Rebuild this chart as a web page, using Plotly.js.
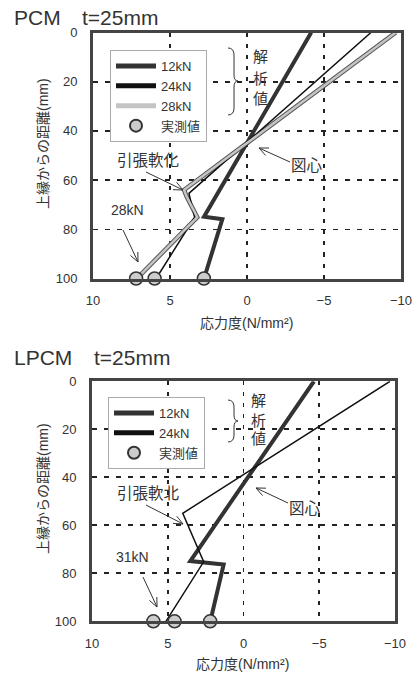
<!DOCTYPE html>
<html>
<head>
<meta charset="utf-8">
<script src="https://cdn.plot.ly/plotly-3.0.1.min.js"></script>
<style>html,body{margin:0;padding:0;background:#fff;}#chart{width:412px;height:674px;}</style>
</head>
<body>
<div id="chart"></div>
<script>
// ---- data (stress in N/mm^2, depth from top edge in mm) ----
const xTicks = [10, 5, 0, -5, -10];
const yTicks = [0, 20, 40, 60, 80, 100];

// PCM t=25mm
const pcm12Depth = [0, 74.9, 75.9, 100];
const pcm12Stress = [-4.17, 2.79, 1.6, 2.79];
const pcm24Depth = [0, 65.4, 75.1, 100];
const pcm24Stress = [-8.05, 3.77, 3.40, 5.9];
const pcm28Depth = [0, 64.0, 66.7, 75.1, 100];
const pcm28Stress = [-9.66, 4.09, 3.92, 3.23, 7.15];
const pcmMeasDepth = [100, 100, 100];
const pcmMeasStress = [7.2, 6.0, 2.8];

// LPCM t=25mm
const lpcm12Depth = [0, 74.9, 76.3, 100];
const lpcm12Stress = [-4.65, 3.51, 1.31, 2.19];
const lpcm24Depth = [0, 55.0, 75.2, 100];
const lpcm24Stress = [-9.67, 4.01, 2.63, 5.12];
const lpcmMeasDepth = [100, 100, 100];
const lpcmMeasStress = [5.95, 4.55, 2.2];

const xTitle = '応力度(N/mm²)';
const yTitle = '上縁からの距離(mm)';

const W = 412, H = 674;
const px = x => x / W;
const py = y => 1 - y / H;

const LAT = '"Liberation Sans", Arial, sans-serif';
const MIX = '"Liberation Sans", "Noto Sans CJK JP", sans-serif';

const markerStyle = {size: 13, color: '#cccccc', line: {color: '#333', width: 1.5}};

const traces = [
  // PCM
  {x: pcm28Stress, y: pcm28Depth, xaxis: 'x', yaxis: 'y', mode: 'lines', showlegend: false,
   line: {color: '#555', width: 4.5}, hoverinfo: 'skip'},
  {x: pcm12Stress, y: pcm12Depth, xaxis: 'x', yaxis: 'y', mode: 'lines', name: '12kN',
   line: {color: '#333', width: 4}, legend: 'legend'},
  {x: pcm24Stress, y: pcm24Depth, xaxis: 'x', yaxis: 'y', mode: 'lines', name: '24kN',
   line: {color: '#111', width: 1.5}, legend: 'legend'},
  {x: pcm28Stress, y: pcm28Depth, xaxis: 'x', yaxis: 'y', mode: 'lines', name: '28kN',
   line: {color: '#c4c4c4', width: 2.5}, legend: 'legend'},
  {x: pcmMeasStress, y: pcmMeasDepth, xaxis: 'x', yaxis: 'y', mode: 'markers', name: '実測値',
   marker: markerStyle, cliponaxis: false, legend: 'legend'},
  // LPCM
  {x: lpcm12Stress, y: lpcm12Depth, xaxis: 'x2', yaxis: 'y2', mode: 'lines', name: '12kN',
   line: {color: '#333', width: 4}, legend: 'legend2'},
  {x: lpcm24Stress, y: lpcm24Depth, xaxis: 'x2', yaxis: 'y2', mode: 'lines', name: '24kN',
   line: {color: '#111', width: 1.5}, legend: 'legend2'},
  {x: lpcmMeasStress, y: lpcmMeasDepth, xaxis: 'x2', yaxis: 'y2', mode: 'markers', name: '実測値',
   marker: markerStyle, cliponaxis: false, legend: 'legend2'}
];

function xAxis(domain, anchor) {
  return {domain: domain, anchor: anchor, range: [10, -10], tickvals: xTicks,
    showline: true, mirror: true, linewidth: 3, linecolor: '#444',
    showgrid: true, gridcolor: '#222', gridwidth: 1.6, griddash: '4px,7px',
    zeroline: false, ticks: 'outside', ticklen: 8, tickcolor: 'rgba(0,0,0,0)',
    ticklabeloverflow: 'allow',
    tickfont: {family: LAT, size: 13, color: '#333'}, fixedrange: true};
}
function yAxis(domain, anchor) {
  return {domain: domain, anchor: anchor, range: [100, 0], tickvals: yTicks,
    showline: true, mirror: true, linewidth: 3, linecolor: '#444',
    showgrid: true, gridcolor: '#222', gridwidth: 1.6, griddash: '5px,7px',
    zeroline: false, ticks: 'outside', ticklen: 10, tickcolor: 'rgba(0,0,0,0)',
    ticklabeloverflow: 'allow',
    tickfont: {family: LAT, size: 13, color: '#333'}, fixedrange: true};
}

function legendCfg(x, y) {
  return {x: px(x), y: py(y), xref: 'paper', yref: 'paper', xanchor: 'left', yanchor: 'top',
    bgcolor: '#fff', bordercolor: '#aaa', borderwidth: 1, itemwidth: 40,
    font: {family: MIX, size: 13, color: '#333'}, tracegroupgap: 0, itemsizing: 'constant'};
}

function txt(text, x, y, size, extra) {
  return Object.assign({text: text, x: px(x), y: py(y), xref: 'paper', yref: 'paper',
    showarrow: false, xanchor: 'center', yanchor: 'middle',
    font: {family: MIX, size: size, color: '#333'}}, extra || {});
}

const P = (x, y) => px(x).toFixed(4) + ',' + py(y).toFixed(4);

// arrow drawn as a path: shaft from tail to head plus an open V head
function arrowShape(hx, hy, tx, ty) {
  const dx = tx - hx, dy = ty - hy, L = Math.hypot(dx, dy);
  const ux = dx / L, uy = dy / L, a = 0.42, len = 10;
  const b1x = hx + len * (ux * Math.cos(a) - uy * Math.sin(a));
  const b1y = hy + len * (ux * Math.sin(a) + uy * Math.cos(a));
  const b2x = hx + len * (ux * Math.cos(-a) - uy * Math.sin(-a));
  const b2y = hy + len * (ux * Math.sin(-a) + uy * Math.cos(-a));
  return {type: 'path', xref: 'paper', yref: 'paper', line: {color: '#333', width: 1},
    path: 'M' + P(tx, ty) + ' L' + P(hx, hy) + ' M' + P(b1x, b1y) + ' L' + P(hx, hy) +
      ' L' + P(b2x, b2y)};
}

function brace(x0, top, tip, bottom, xt) {
  const xm = (x0 + xt) / 2 + 1;
  return {type: 'path', xref: 'paper', yref: 'paper', line: {color: '#333', width: 1},
    path: 'M' + P(x0, top) + ' Q' + P(xm, top) + ' ' + P(xm, top + 7) +
      ' L' + P(xm, tip - 6) + ' Q' + P(xm, tip) + ' ' + P(xt, tip) +
      ' Q' + P(xm, tip) + ' ' + P(xm, tip + 6) +
      ' L' + P(xm, bottom - 7) + ' Q' + P(xm, bottom) + ' ' + P(x0, bottom)};
}

const annotations = [
  // titles
  txt('PCM', 12, 17, 21, {xanchor: 'left', font: {family: LAT, size: 21, color: '#333'}}),
  txt('t=25mm', 80, 17, 21, {xanchor: 'left', font: {family: LAT, size: 21, color: '#333'}}),
  txt('LPCM', 12, 357, 21, {xanchor: 'left', font: {family: LAT, size: 21, color: '#333'}}),
  txt('t=25mm', 92, 357, 21, {xanchor: 'left', font: {family: LAT, size: 21, color: '#333'}}),
  // axis titles
  txt(yTitle, 43, 144, 14, {textangle: -90}),
  txt(xTitle, 247, 323, 14),
  txt(yTitle, 43, 489, 14, {textangle: -90}),
  txt(xTitle, 243, 664, 14),
  // PCM notes
  txt('解', 260, 57, 15), txt('析', 260, 78, 15), txt('値', 260, 98, 15),
  txt('引張軟化', 148, 160, 15.5),
  txt('図心', 307, 166, 15.5),
  txt('28kN', 128, 210, 14),
  // LPCM notes
  txt('解', 258, 401, 15), txt('析', 258, 420, 15), txt('値', 258, 438, 15),
  txt('引張軟北', 148, 493, 15.5),
  txt('図心', 305, 508, 15.5),
  txt('31kN', 132, 557, 14)
];

const shapes = [
  brace(228, 48, 81, 115, 238), brace(228, 400, 421, 442, 238),
  arrowShape(183, 190, 146, 172),
  arrowShape(259, 148, 290, 162),
  arrowShape(138, 262, 123, 230),
  arrowShape(183, 524, 146, 505),
  arrowShape(256, 488, 288, 503),
  arrowShape(157, 607, 143, 577)
];

const layout = {
  width: W, height: H,
  margin: {l: 0, r: 0, t: 0, b: 0},
  paper_bgcolor: '#fff', plot_bgcolor: '#fff',
  font: {family: MIX, color: '#333'},
  xaxis: xAxis([93 / W, 401 / W], 'y'),
  yaxis: yAxis([1 - 278.5 / H, 1 - 32.5 / H], 'x'),
  xaxis2: xAxis([92 / W, 395 / W], 'y2'),
  yaxis2: yAxis([1 - 621.3 / H, 1 - 381.3 / H], 'x2'),
  legend: legendCfg(110, 50),
  legend2: legendCfg(108, 397),
  annotations: annotations,
  shapes: shapes
};

Plotly.newPlot('chart', traces, layout, {displayModeBar: false, staticPlot: true});
</script>
</body>
</html>
